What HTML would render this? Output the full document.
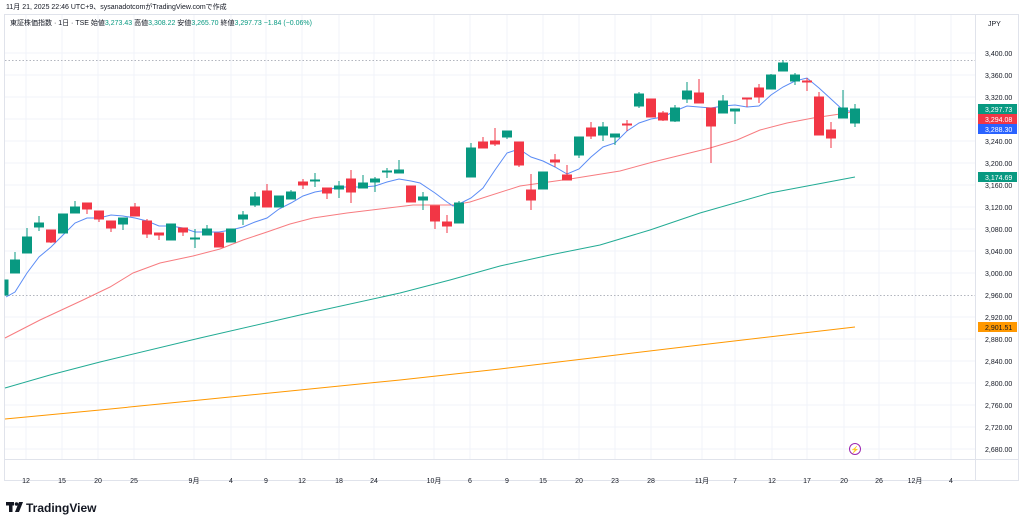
<!DOCTYPE html>
<html><head><meta charset="utf-8"><style>
body{margin:0;background:#fff;width:1024px;height:524px;overflow:hidden;font-family:"Liberation Sans","Noto Sans CJK JP",sans-serif}
svg{position:absolute;left:0;top:0}
</style></head><body>
<svg width="1024" height="524" viewBox="0 0 1024 524" font-family="Liberation Sans, Noto Sans CJK JP, sans-serif">
<rect x="0" y="0" width="1024" height="524" fill="#fff"/>
<text x="6" y="9" font-size="7" fill="#131722">11月 21, 2025 22:46 UTC+9、sysanadotcomがTradingView.comで作成</text>
<rect x="4.5" y="14.5" width="1014" height="466" fill="none" stroke="#e0e3eb"/>
<line x1="975.5" y1="15" x2="975.5" y2="480" stroke="#e0e3eb"/>
<line x1="5" y1="459.5" x2="1018" y2="459.5" stroke="#e0e3eb"/>
<g stroke="#f0f3fa" stroke-width="1">
<line x1="5" y1="53" x2="975" y2="53"/><line x1="5" y1="75" x2="975" y2="75"/><line x1="5" y1="97" x2="975" y2="97"/><line x1="5" y1="119" x2="975" y2="119"/><line x1="5" y1="141" x2="975" y2="141"/><line x1="5" y1="163" x2="975" y2="163"/><line x1="5" y1="185" x2="975" y2="185"/><line x1="5" y1="207" x2="975" y2="207"/><line x1="5" y1="229" x2="975" y2="229"/><line x1="5" y1="251" x2="975" y2="251"/><line x1="5" y1="273" x2="975" y2="273"/><line x1="5" y1="317" x2="975" y2="317"/><line x1="5" y1="339" x2="975" y2="339"/><line x1="5" y1="361" x2="975" y2="361"/><line x1="5" y1="383" x2="975" y2="383"/><line x1="5" y1="405" x2="975" y2="405"/><line x1="5" y1="427" x2="975" y2="427"/><line x1="5" y1="449" x2="975" y2="449"/>
<line x1="26" y1="15" x2="26" y2="459"/><line x1="62" y1="15" x2="62" y2="459"/><line x1="98" y1="15" x2="98" y2="459"/><line x1="134" y1="15" x2="134" y2="459"/><line x1="194" y1="15" x2="194" y2="459"/><line x1="231" y1="15" x2="231" y2="459"/><line x1="266" y1="15" x2="266" y2="459"/><line x1="302" y1="15" x2="302" y2="459"/><line x1="339" y1="15" x2="339" y2="459"/><line x1="374" y1="15" x2="374" y2="459"/><line x1="434" y1="15" x2="434" y2="459"/><line x1="470" y1="15" x2="470" y2="459"/><line x1="507" y1="15" x2="507" y2="459"/><line x1="543" y1="15" x2="543" y2="459"/><line x1="579" y1="15" x2="579" y2="459"/><line x1="615" y1="15" x2="615" y2="459"/><line x1="651" y1="15" x2="651" y2="459"/><line x1="702" y1="15" x2="702" y2="459"/><line x1="735" y1="15" x2="735" y2="459"/><line x1="772" y1="15" x2="772" y2="459"/><line x1="807" y1="15" x2="807" y2="459"/><line x1="844" y1="15" x2="844" y2="459"/><line x1="879" y1="15" x2="879" y2="459"/><line x1="915" y1="15" x2="915" y2="459"/><line x1="951" y1="15" x2="951" y2="459"/>
</g>
<line x1="5" y1="60.5" x2="975" y2="60.5" stroke="#b2b5be" stroke-dasharray="1.5,2"/>
<line x1="5" y1="295.5" x2="975" y2="295.5" stroke="#b2b5be" stroke-dasharray="1.5,2"/>
<text x="10" y="25" font-size="7" fill="#131722">東証株価指数 · 1日 · TSE  <tspan>始値</tspan><tspan fill="#089981">3,273.43</tspan> 高値<tspan fill="#089981">3,308.22</tspan> 安値<tspan fill="#089981">3,265.70</tspan> 終値<tspan fill="#089981">3,297.73 −1.84 (−0.06%)</tspan></text>
<text x="988" y="26" font-size="7" fill="#131722">JPY</text>
<polyline fill="none" stroke="#ff9800" stroke-width="1" points="5,419 100,410 200,400 300,390 400,380 500,369 600,357 700,345 855,327"/>
<polyline fill="none" stroke="#22ab94" stroke-width="1" points="5,388 50,375 100,362 200,338 300,315 400,293 450,280 500,266 550,255 600,245 650,230 700,213 770,193 855,177"/>
<polyline fill="none" stroke="#f77c80" stroke-width="1" points="5,338 40,320 83,300 110,287 133,273 160,263 193,256 220,249 243,240 267,232 290,224 313,218 347,213 380,209 413,205 453,205 470,202 520,186 570,179 620,171 653,162 710,148 737,140 760,130 787,123 813,118 847,113 855,111"/>
<polyline fill="none" stroke="#5b8cf5" stroke-width="1" points="6,297 15,292 27,273 39,257 51,247 63,235 75,223 87,218 99,218 111,215 123,216 135,218 147,221 159,226 171,226 183,228 195,232 207,232 219,232 231,230 243,227 255,222 267,218 279,209 291,203 303,196 315,192 327,190 339,187 351,187 363,187 375,186 387,182 399,179 411,181 420,183 435,193 447,202 453,206 459,204 471,198 483,188 495,170 507,153 519,149 531,157 543,161 555,167 567,174 579,169 591,157 603,147 615,143 627,131 639,123 651,119 663,117 675,111 687,106 699,107 711,108 723,106 735,105 747,107 759,106 771,95 783,87 795,81 807,78 819,88 831,99 843,110 855,112"/>
<g id="c">
<g stroke="#089981" fill="#089981">
<line x1="7" y1="280" x2="7" y2="295"/><rect x="5" y="280" width="3" height="15"/>
<line x1="15" y1="252" x2="15" y2="273"/><rect x="10.5" y="260" width="9" height="13"/>
<line x1="27" y1="228" x2="27" y2="253"/><rect x="22.5" y="237" width="9" height="16"/>
<line x1="39" y1="216" x2="39" y2="231"/><rect x="34.5" y="223" width="9" height="4"/>
<line x1="63" y1="214" x2="63" y2="233"/><rect x="58.5" y="214" width="9" height="19"/>
<line x1="75" y1="201" x2="75" y2="213"/><rect x="70.5" y="207" width="9" height="6"/>
<line x1="123" y1="218" x2="123" y2="230"/><rect x="118.5" y="218" width="9" height="6"/>
<line x1="171" y1="224" x2="171" y2="240"/><rect x="166.5" y="224" width="9" height="16"/>
<line x1="195" y1="229" x2="195" y2="248"/><rect x="190.5" y="238" width="9" height="1"/>
<line x1="207" y1="225" x2="207" y2="235"/><rect x="202.5" y="229" width="9" height="6"/>
<line x1="231" y1="229" x2="231" y2="242"/><rect x="226.5" y="229" width="9" height="13"/>
<line x1="243" y1="211" x2="243" y2="225"/><rect x="238.5" y="215" width="9" height="4"/>
<line x1="255" y1="192" x2="255" y2="207"/><rect x="250.5" y="197" width="9" height="8"/>
<line x1="279" y1="196" x2="279" y2="207"/><rect x="274.5" y="196" width="9" height="11"/>
<line x1="291" y1="190" x2="291" y2="199"/><rect x="286.5" y="192" width="9" height="7"/>
<line x1="315" y1="173" x2="315" y2="187"/><rect x="310.5" y="180" width="9" height="1"/>
<line x1="339" y1="181" x2="339" y2="198"/><rect x="334.5" y="186" width="9" height="3"/>
<line x1="363" y1="175" x2="363" y2="188"/><rect x="358.5" y="183" width="9" height="5"/>
<line x1="375" y1="177" x2="375" y2="192"/><rect x="370.5" y="179" width="9" height="3"/>
<line x1="387" y1="168" x2="387" y2="178"/><rect x="382.5" y="171" width="9" height="1"/>
<line x1="399" y1="160" x2="399" y2="173"/><rect x="394.5" y="170" width="9" height="3"/>
<line x1="423" y1="192" x2="423" y2="210"/><rect x="418.5" y="197" width="9" height="3"/>
<line x1="459" y1="201" x2="459" y2="223"/><rect x="454.5" y="203" width="9" height="20"/>
<line x1="471" y1="143" x2="471" y2="177"/><rect x="466.5" y="148" width="9" height="29"/>
<line x1="507" y1="131" x2="507" y2="139"/><rect x="502.5" y="131" width="9" height="6"/>
<line x1="543" y1="172" x2="543" y2="189"/><rect x="538.5" y="172" width="9" height="17"/>
<line x1="579" y1="137" x2="579" y2="158"/><rect x="574.5" y="137" width="9" height="18"/>
<line x1="603" y1="122" x2="603" y2="141"/><rect x="598.5" y="127" width="9" height="8"/>
<line x1="615" y1="134" x2="615" y2="145"/><rect x="610.5" y="134" width="9" height="3"/>
<line x1="639" y1="92" x2="639" y2="108"/><rect x="634.5" y="94" width="9" height="12"/>
<line x1="675" y1="105" x2="675" y2="122"/><rect x="670.5" y="108" width="9" height="13"/>
<line x1="687" y1="82" x2="687" y2="103"/><rect x="682.5" y="91" width="9" height="8"/>
<line x1="723" y1="95" x2="723" y2="113"/><rect x="718.5" y="101" width="9" height="12"/>
<line x1="735" y1="109" x2="735" y2="124"/><rect x="730.5" y="109" width="9" height="2"/>
<line x1="771" y1="74" x2="771" y2="89"/><rect x="766.5" y="75" width="9" height="14"/>
<line x1="783" y1="60" x2="783" y2="71"/><rect x="778.5" y="63" width="9" height="8"/>
<line x1="795" y1="73" x2="795" y2="85"/><rect x="790.5" y="75" width="9" height="6"/>
<line x1="843" y1="90" x2="843" y2="118"/><rect x="838.5" y="108" width="9" height="10"/>
<line x1="855" y1="104" x2="855" y2="127"/><rect x="850.5" y="109" width="9" height="14"/>
</g>
<g stroke="#f23645" fill="#f23645">
<line x1="51" y1="230" x2="51" y2="243"/><rect x="46.5" y="230" width="9" height="12"/>
<line x1="87" y1="203" x2="87" y2="214"/><rect x="82.5" y="203" width="9" height="6"/>
<line x1="99" y1="211" x2="99" y2="222"/><rect x="94.5" y="211" width="9" height="8"/>
<line x1="111" y1="221" x2="111" y2="232"/><rect x="106.5" y="221" width="9" height="7"/>
<line x1="135" y1="203" x2="135" y2="216"/><rect x="130.5" y="207" width="9" height="9"/>
<line x1="147" y1="219" x2="147" y2="238"/><rect x="142.5" y="221" width="9" height="13"/>
<line x1="159" y1="233" x2="159" y2="240"/><rect x="154.5" y="233" width="9" height="2"/>
<line x1="183" y1="228" x2="183" y2="236"/><rect x="178.5" y="228" width="9" height="4"/>
<line x1="219" y1="233" x2="219" y2="247"/><rect x="214.5" y="233" width="9" height="14"/>
<line x1="267" y1="184" x2="267" y2="207"/><rect x="262.5" y="191" width="9" height="16"/>
<line x1="303" y1="179" x2="303" y2="189"/><rect x="298.5" y="182" width="9" height="3"/>
<line x1="327" y1="188" x2="327" y2="199"/><rect x="322.5" y="188" width="9" height="5"/>
<line x1="351" y1="170" x2="351" y2="203"/><rect x="346.5" y="179" width="9" height="13"/>
<line x1="411" y1="186" x2="411" y2="202"/><rect x="406.5" y="186" width="9" height="16"/>
<line x1="435" y1="206" x2="435" y2="229"/><rect x="430.5" y="206" width="9" height="15"/>
<line x1="447" y1="215" x2="447" y2="233"/><rect x="442.5" y="222" width="9" height="4"/>
<line x1="483" y1="137" x2="483" y2="148"/><rect x="478.5" y="142" width="9" height="6"/>
<line x1="495" y1="128" x2="495" y2="146"/><rect x="490.5" y="141" width="9" height="3"/>
<line x1="519" y1="142" x2="519" y2="167"/><rect x="514.5" y="142" width="9" height="23"/>
<line x1="531" y1="174" x2="531" y2="210"/><rect x="526.5" y="190" width="9" height="10"/>
<line x1="555" y1="154" x2="555" y2="167"/><rect x="550.5" y="160" width="9" height="2"/>
<line x1="567" y1="165" x2="567" y2="180"/><rect x="562.5" y="175" width="9" height="5"/>
<line x1="591" y1="122" x2="591" y2="139"/><rect x="586.5" y="128" width="9" height="8"/>
<line x1="627" y1="120" x2="627" y2="131"/><rect x="622.5" y="124" width="9" height="1"/>
<line x1="651" y1="99" x2="651" y2="117"/><rect x="646.5" y="99" width="9" height="18"/>
<line x1="663" y1="111" x2="663" y2="121"/><rect x="658.5" y="113" width="9" height="7"/>
<line x1="699" y1="79" x2="699" y2="103"/><rect x="694.5" y="93" width="9" height="10"/>
<line x1="711" y1="108" x2="711" y2="163"/><rect x="706.5" y="108" width="9" height="18"/>
<line x1="747" y1="98" x2="747" y2="107"/><rect x="742.5" y="98" width="9" height="1"/>
<line x1="759" y1="84" x2="759" y2="103"/><rect x="754.5" y="88" width="9" height="9"/>
<line x1="807" y1="78" x2="807" y2="91"/><rect x="802.5" y="81" width="9" height="1"/>
<line x1="819" y1="92" x2="819" y2="135"/><rect x="814.5" y="97" width="9" height="38"/>
<line x1="831" y1="122" x2="831" y2="148"/><rect x="826.5" y="130" width="9" height="8"/>
</g>
</g>
<g font-size="7" fill="#131722" text-anchor="start">
<text x="985" y="56">3,400.00</text><text x="985" y="78">3,360.00</text><text x="985" y="100">3,320.00</text><text x="985" y="166">3,200.00</text><text x="985" y="188">3,160.00</text><text x="985" y="210">3,120.00</text><text x="985" y="232">3,080.00</text><text x="985" y="254">3,040.00</text><text x="985" y="276">3,000.00</text><text x="985" y="298">2,960.00</text><text x="985" y="320">2,920.00</text><text x="985" y="342">2,880.00</text><text x="985" y="364">2,840.00</text><text x="985" y="386">2,800.00</text><text x="985" y="408">2,760.00</text><text x="985" y="430">2,720.00</text><text x="985" y="452">2,680.00</text>
<text x="985" y="144">3,240.00</text>
</g>
<rect x="978" y="104" width="39" height="10" fill="#089981"/><text x="985" y="112" font-size="7" fill="#fff">3,297.73</text>
<rect x="978" y="114" width="39" height="10" fill="#f23645"/><text x="985" y="122" font-size="7" fill="#fff">3,294.08</text>
<rect x="978" y="124" width="39" height="10" fill="#2962ff"/><text x="985" y="132" font-size="7" fill="#fff">3,288.30</text>
<rect x="978" y="172" width="39" height="10" fill="#089981"/><text x="985" y="180" font-size="7" fill="#fff">3,174.69</text>
<rect x="978" y="322" width="39" height="10" fill="#ff9800"/><text x="985" y="330" font-size="7" fill="#131722">2,901.51</text>
<g font-size="7" fill="#131722" text-anchor="middle">
<text x="26" y="483">12</text><text x="62" y="483">15</text><text x="98" y="483">20</text><text x="134" y="483">25</text><text x="194" y="483">9月</text><text x="231" y="483">4</text><text x="266" y="483">9</text><text x="302" y="483">12</text><text x="339" y="483">18</text><text x="374" y="483">24</text><text x="434" y="483">10月</text><text x="470" y="483">6</text><text x="507" y="483">9</text><text x="543" y="483">15</text><text x="579" y="483">20</text><text x="615" y="483">23</text><text x="651" y="483">28</text><text x="702" y="483">11月</text><text x="735" y="483">7</text><text x="772" y="483">12</text><text x="807" y="483">17</text><text x="844" y="483">20</text><text x="879" y="483">26</text><text x="915" y="483">12月</text><text x="951" y="483">4</text>
</g>
<circle cx="855" cy="449" r="5.5" fill="none" stroke="#9c27b0" stroke-width="1"/>
<text x="855" y="452" font-size="7" fill="#9c27b0" text-anchor="middle">⚡</text>
<g fill="#131722">
<rect x="6" y="502" width="8" height="3.5"/><rect x="9" y="502" width="3.5" height="10"/><circle cx="16.5" cy="504" r="1.8"/><path d="M19 502 L23 502 L19 512 L15 512 Z"/>
</g>
<text x="26" y="512" font-size="12" font-weight="bold" fill="#131722">TradingView</text>
</svg>
</body></html>
